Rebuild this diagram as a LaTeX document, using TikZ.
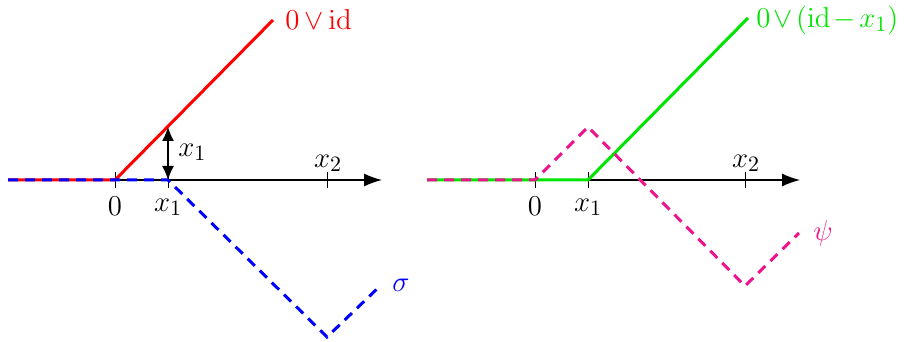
\documentclass[tikz,border=0pt]{standalone}
\usetikzlibrary{arrows.meta}
\begin{document}
\begin{tikzpicture}[x=0.5pt,y=-0.5pt,
  axisline/.style={line width=0.6pt,-{Latex[length=9pt,width=6.5pt]}},
  tickmark/.style={line width=0.5pt},
  redline/.style={red,line width=1.5pt},
  greenline/.style={green!90!black,line width=1.5pt},
  bluedash/.style={blue,line width=1.5pt,dash pattern=on 5pt off 3.5pt},
  pinkdash/.style={draw=pinkc,line width=1.5pt,dash pattern=on 5pt off 3.5pt},
  lbl/.style={font=\fontsize{15}{18}\selectfont,inner sep=0.5pt}]
\definecolor{pinkc}{RGB}{235,20,140}
\useasboundingbox (0,0) rectangle (907,342);
% ---- left panel ----
\coordinate (La) at (8,180);
\coordinate (Lb) at (382,180);
\coordinate (L0) at (115,180);
\coordinate (L1) at (168,180);
\coordinate (L2) at (327,180);
\coordinate (Ltop) at (273,20);
\coordinate (Lr) at (168,127);
\coordinate (Lbot) at (327,337);
\coordinate (Lend) at (379,287);
\draw[axisline] (La) -- (Lb);
\foreach \p in {L0,L1,L2} \draw[tickmark] ([yshift=-4]\p) -- ([yshift=4]\p);
\draw[redline] (La) -- (L0) -- (Ltop);
\draw[bluedash] (La) -- (L1) -- (Lbot) -- (Lend);
\draw[line width=0.6pt,{Latex[length=7pt,width=6pt]}-{Latex[length=7pt,width=6pt]}] (L1) -- (Lr);
\node[lbl,red,anchor=west] (Lf) at (284,20) {$\medmuskip=3mu 0\vee\mathrm{id}$};
\node[lbl,anchor=west] (Lx) at (177,152) {$x_1$};
\node[lbl] (L0l) at (115,206) {$0$};
\node[lbl] (L1l) at (168,207) {$x_1$};
\node[lbl] (L2l) at (328,163) {$x_2$};
\node[lbl,blue] (Ls) at (401,285) {$\sigma$};
% ---- right panel ----
\coordinate (Ra) at (427,180);
\coordinate (Rb) at (800,180);
\coordinate (R0) at (535,180);
\coordinate (R1) at (588,180);
\coordinate (R2) at (745,180);
\coordinate (Rtop) at (748,18);
\coordinate (Rpk) at (588,127);
\coordinate (Rbot) at (745,286);
\coordinate (Rend) at (799,233);
\draw[axisline] (Ra) -- (Rb);
\foreach \p in {R0,R1,R2} \draw[tickmark] ([yshift=-4]\p) -- ([yshift=4]\p);
\draw[greenline] (Ra) -- (R1) -- (Rtop);
\draw[pinkdash] (Ra) -- (R0) -- (Rpk) -- (Rbot) -- (Rend);
\node[lbl,green!90!black,anchor=west] (Rf) at (755,20) {$\medmuskip=2mu 0\vee(\mathrm{id}-x_1)$};
\node[lbl] (R0l) at (535,206) {$0$};
\node[lbl] (R1l) at (588,207) {$x_1$};
\node[lbl] (R2l) at (746,163) {$x_2$};
\node[lbl,pinkc] (Rp) at (823,233) {$\psi$};
\end{tikzpicture}
\end{document}
